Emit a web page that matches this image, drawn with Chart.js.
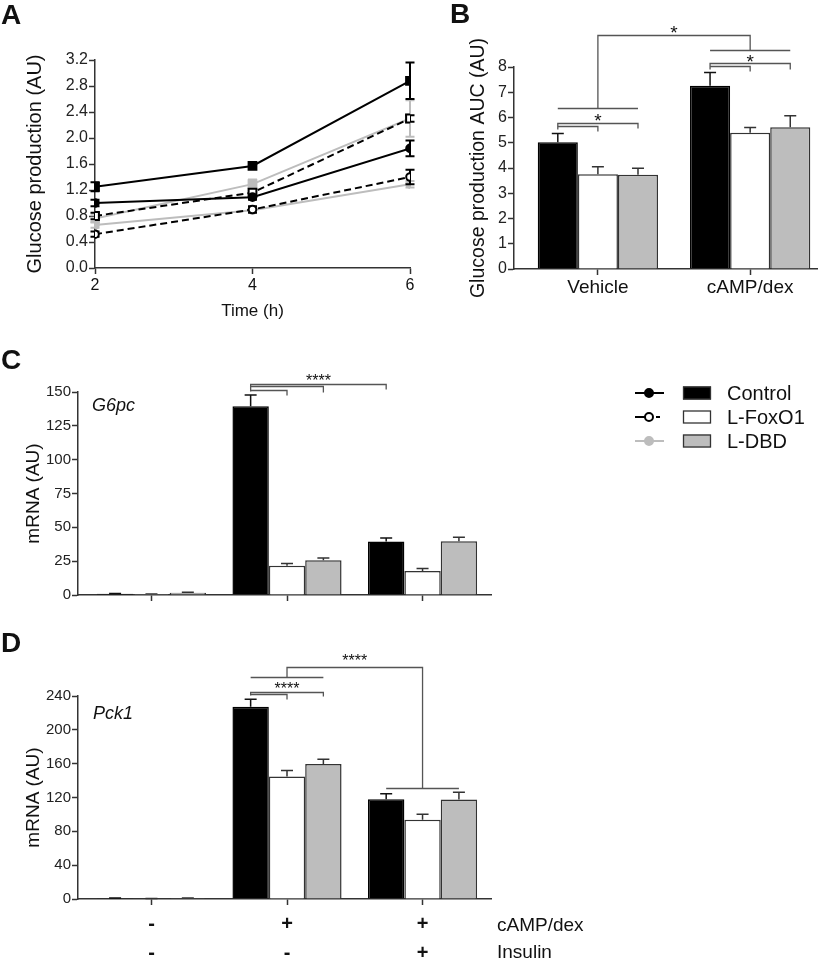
<!DOCTYPE html>
<html>
<head>
<meta charset="utf-8">
<script src="https://cdn.jsdelivr.net/npm/chart.js@4.4.0/dist/chart.umd.min.js"></script>
<style>
  body { margin: 0; background: #fff; }
  #fig { position: relative; width: 828px; height: 961px; overflow: hidden;
         font-family: "Liberation Sans", Arial, sans-serif; color: #111; }
  #fig canvas { position: absolute; }
  .lbl { position: absolute; font-weight: bold; font-size: 28px; line-height: 1; }
  .gene { position: absolute; font-style: italic; font-size: 18px; line-height: 1; }
  .row { position: absolute; font-size: 19px; line-height: 1; }
</style>
</head>
<body>
<div id="fig">
  <canvas id="chartA" width="420" height="330" style="left:0;top:0"></canvas>
  <canvas id="chartB" width="408" height="330" style="left:420px;top:0"></canvas>
  <canvas id="chartC" width="500" height="285" style="left:0;top:330px"></canvas>
  <canvas id="chartD" width="500" height="346" style="left:0;top:615px"></canvas>
  <canvas id="legend" width="208" height="85" style="left:620px;top:375px"></canvas>
  <div class="lbl" style="left:1px;top:1px">A</div>
  <div class="lbl" style="left:450px;top:0">B</div>
  <div class="lbl" style="left:1px;top:346px">C</div>
  <div class="lbl" style="left:1px;top:629px">D</div>
  <div class="gene" style="left:92px;top:396px">G6pc</div>
  <div class="gene" style="left:93px;top:704px">Pck1</div>
  <div class="row" style="left:497px;top:915px">cAMP/dex</div>
  <div class="row" style="left:497px;top:942px">Insulin</div>
</div>
<script>
// ---- A: glucose production over time (squares = cAMP/dex, circles = vehicle)
const timePoints = [2, 4, 6];
const ctrlCamp = [1.25, 1.57, 2.88];
const ctrlCampErr = [0.07, 0.03, 0.28];
const ctrlVeh = [1.00, 1.09, 1.84];
const ctrlVehErr = [0.05, 0.04, 0.12];
const foxCamp = [0.80, 1.16, 2.30];
const foxCampErr = [0.05, 0.04, 0.05];
const foxVeh = [0.52, 0.90, 1.40];
const foxVehErr = [0.04, 0.05, 0.11];
const dbdCamp = [0.76, 1.29, 2.30];
const dbdCampErr = [0.05, 0.07, 0.28];
const dbdVeh = [0.66, 0.89, 1.29];
const dbdVehErr = [0.04, 0.03, 0.05];
const glucTicks = [0, 0.4, 0.8, 1.2, 1.6, 2.0, 2.4, 2.8, 3.2];

// ---- B: AUC
const aucGroups = ['Vehicle', 'cAMP/dex'];
const aucControl = [5.02, 7.26];
const aucControlErr = [0.35, 0.52];
const aucFoxo = [3.75, 5.40];
const aucFoxoErr = [0.30, 0.20];
const aucDbd = [3.73, 5.61];
const aucDbdErr = [0.26, 0.46];
const aucTicks = [0, 1, 2, 3, 4, 5, 6, 7, 8];

// ---- C / D: mRNA
const campRow = ['-', '+', '+'];
const insulinRow = ['-', '-', '+'];
const g6pcControl = [1.0, 139.4, 39.5];
const g6pcControlErr = [0.2, 8.4, 2.7];
const g6pcFoxo = [0.7, 21.7, 17.8];
const g6pcFoxoErr = [0.1, 1.5, 1.7];
const g6pcDbd = [1.7, 25.7, 39.7];
const g6pcDbdErr = [0.3, 1.7, 3.0];
const g6pcTicks = [0, 25, 50, 75, 100, 125, 150];
const pck1Control = [1.0, 227.4, 118.0];
const pck1ControlErr = [0.3, 8.7, 6.3];
const pck1Foxo = [0.5, 144.8, 93.6];
const pck1FoxoErr = [0.2, 7.0, 6.7];
const pck1Dbd = [1.0, 159.7, 117.6];
const pck1DbdErr = [0.3, 5.5, 8.7];
const pck1Ticks = [0, 40, 80, 120, 160, 200, 240];

const AXIS = '#333';
const GRAY = '#bdbdbd';
Chart.defaults.font.family = '"Liberation Sans", Arial, sans-serif';
Chart.defaults.color = '#222';
Chart.defaults.animation = false;

// error bars, drawn under each dataset
const errorBars = {
  id: 'errorBars',
  beforeDatasetDraw(chart, args) {
    const ds = chart.data.datasets[args.index];
    if (!ds.errors) return;
    const ctx = chart.ctx, y = chart.scales.y;
    const bar = chart.config.type === 'bar';
    ctx.save();
    ctx.strokeStyle = ds.errorColor || ds.borderColor;
    ctx.lineWidth = ds.errorWidth || 1.5;
    const cap = ds.errorCap || 5;
    args.meta.data.forEach(function(el, i) {
      const v = ds.data[i].y, e = ds.errors[i];
      const top = y.getPixelForValue(v + e);
      const bot = y.getPixelForValue(bar ? v : v - e);
      ctx.beginPath();
      ctx.moveTo(el.x, top); ctx.lineTo(el.x, bot);
      ctx.moveTo(el.x - cap, top); ctx.lineTo(el.x + cap, top);
      if (!bar) { ctx.moveTo(el.x - cap, bot); ctx.lineTo(el.x + cap, bot); }
      ctx.stroke();
    });
    ctx.restore();
  }
};

function barX(chart, ds, i) { return chart.getDatasetMeta(ds).data[i].x; }

function path(chart, pts) {
  const ctx = chart.ctx, y = chart.scales.y;
  ctx.save();
  ctx.strokeStyle = '#555';
  ctx.lineWidth = 1.3;
  ctx.beginPath();
  pts.forEach(function(p, k) {
    const py = Math.round(y.getPixelForValue(p[1])) + 0.5;
    if (k) ctx.lineTo(p[0], py); else ctx.moveTo(p[0], py);
  });
  ctx.stroke();
  ctx.restore();
}

function stars(chart, x, v, txt, size) {
  const ctx = chart.ctx;
  ctx.save();
  ctx.fillStyle = '#111';
  ctx.font = size + 'px "Liberation Sans", Arial, sans-serif';
  ctx.textAlign = 'center';
  ctx.textBaseline = 'alphabetic';
  ctx.fillText(txt, x, chart.scales.y.getPixelForValue(v) + size * 0.58);
  ctx.restore();
}

function yAxis(ticks, title, left, width, tickSize, titleSize, fmt) {
  return {
    min: ticks[0], max: ticks[ticks.length - 1],
    afterBuildTicks: function(s) { s.ticks = ticks.map(function(v) { return { value: v }; }); },
    afterFit: function(s) { s.width = width; },
    ticks: { font: { size: tickSize }, padding: 1, color: '#222', callback: fmt || function(v) { return v; } },
    grid: { drawOnChartArea: false, tickLength: 6, tickColor: AXIS, tickWidth: 1.5 },
    border: { color: AXIS, width: 1.5 },
    title: { display: true, text: title, color: '#111', font: { size: titleSize }, padding: { top: 4, bottom: 0 } }
  };
}

function xAxis(min, max, ticks, height, font, pad, labelFn) {
  return {
    type: 'linear', min: min, max: max, offset: false,
    afterBuildTicks: function(s) { s.ticks = ticks.map(function(v) { return { value: v }; }); },
    afterFit: function(s) { s.height = height; },
    ticks: { font: font, padding: pad, autoSkip: false, maxRotation: 0, color: '#111', callback: labelFn },
    grid: { offset: false, drawOnChartArea: false, tickLength: 6, tickColor: AXIS, tickWidth: 1.5 },
    border: { color: AXIS, width: 1.5 }
  };
}

function xy(xs, vals) { return xs.map(function(x, i) { return { x: x, y: vals[i] }; }); }

function barSets(xs, c, ce, f, fe, d, de) {
  return [
    { data: xy(xs, c), errors: ce, backgroundColor: '#000', borderColor: '#000', errorColor: '#111', errorCap: 6 },
    { data: xy(xs, f), errors: fe, backgroundColor: '#fff', borderColor: AXIS, errorColor: AXIS, errorCap: 6 },
    { data: xy(xs, d), errors: de, backgroundColor: GRAY, borderColor: AXIS, errorColor: AXIS, errorCap: 6 }
  ];
}

const noLegend = { legend: { display: false }, tooltip: { enabled: false } };

// ---------- A
function lineSet(vals, errs, color, fill, shape, dash) {
  return {
    data: xy(timePoints, vals), errors: errs, borderColor: color, borderWidth: 2,
    borderDash: dash ? [7, 4] : [], pointStyle: shape, pointRadius: shape === 'rect' ? 5.5 : 3.8,
    pointBackgroundColor: fill, pointBorderColor: color, pointBorderWidth: 2,
    errorColor: color, errorWidth: 2, errorCap: 4.5, tension: 0, fill: false
  };
}
new Chart(document.getElementById('chartA'), {
  type: 'line',
  data: { datasets: [
    lineSet(ctrlCamp, ctrlCampErr, '#000', '#000', 'rect', false),
    lineSet(ctrlVeh, ctrlVehErr, '#000', '#000', 'circle', false),
    lineSet(foxCamp, foxCampErr, '#000', '#fff', 'rect', true),
    lineSet(foxVeh, foxVehErr, '#000', '#fff', 'circle', true),
    lineSet(dbdCamp, dbdCampErr, GRAY, GRAY, 'rect', false),
    lineSet(dbdVeh, dbdVehErr, GRAY, GRAY, 'circle', false)
  ] },
  options: {
    responsive: false, devicePixelRatio: 1,
    layout: { padding: { left: 19, top: 60, right: 10, bottom: 0 } },
    plugins: noLegend,
    scales: {
      x: Object.assign(xAxis(2, 6, timePoints, 62, { size: 16 }, 1.5, function(v) { return v; }), {
        title: { display: true, text: 'Time (h)', color: '#111', font: { size: 17 }, padding: { top: 0, bottom: 8 } }
      }),
      y: yAxis(glucTicks, 'Glucose production (AU)', 19, 76, 16, 20, function(v) { return v.toFixed(1); })
    }
  },
  plugins: [errorBars]
});

// ---------- B
new Chart(document.getElementById('chartB'), {
  type: 'bar',
  data: { datasets: barSets([1, 2], aucControl, aucControlErr, aucFoxo, aucFoxoErr, aucDbd, aucDbdErr) },
  options: {
    responsive: false, devicePixelRatio: 1,
    layout: { padding: { left: 43, top: 67, right: 11, bottom: 0 } },
    plugins: noLegend,
    datasets: { bar: { categoryPercentage: 0.79, barPercentage: 1, borderWidth: 1.5 } },
    scales: {
      x: xAxis(0.449, 2.439, [1, 2], 61, { size: 19 }, 1, function(v) { return aucGroups[Math.round(v) - 1]; }),
      y: yAxis(aucTicks, 'Glucose production AUC (AU)', 43, 51, 16, 19.5)
    }
  },
  plugins: [errorBars, {
    id: 'sigB',
    afterDraw(c) {
      const v = [barX(c, 0, 0), barX(c, 1, 0), barX(c, 2, 0)];
      const m = [barX(c, 0, 1), barX(c, 1, 1), barX(c, 2, 1)];
      path(c, [[v[0], 5.55], [v[0], 5.77], [v[2], 5.77], [v[2], 5.58]]);
      path(c, [[v[0], 5.66], [v[1], 5.66], [v[1], 5.48]]);
      path(c, [[v[0], 6.36], [v[2], 6.36]]);
      stars(c, v[1], 6.08, '*', 19);
      path(c, [[m[0], 7.92], [m[0], 8.15], [m[2], 8.15], [m[2], 7.92]]);
      path(c, [[m[0], 8.05], [m[1], 8.05], [m[1], 7.85]]);
      path(c, [[m[0], 8.67], [m[2], 8.67]]);
      stars(c, m[1], 8.41, '*', 19);
      path(c, [[v[1], 6.36], [v[1], 9.27], [m[1], 9.27], [m[1], 8.67]]);
      stars(c, (v[1] + m[1]) / 2, 9.54, '*', 19);
    }
  }]
});

// ---------- C
new Chart(document.getElementById('chartC'), {
  type: 'bar',
  data: { datasets: barSets([1, 2, 3], g6pcControl, g6pcControlErr, g6pcFoxo, g6pcFoxoErr, g6pcDbd, g6pcDbdErr) },
  options: {
    responsive: false, devicePixelRatio: 1,
    layout: { padding: { left: 18, top: 62, right: 9, bottom: 0 } },
    plugins: noLegend,
    datasets: { bar: { categoryPercentage: 0.805, barPercentage: 1, borderWidth: 1.5 } },
    scales: {
      x: xAxis(0.458, 3.505, [1, 2, 3], 20, { size: 12 }, 1, function() { return ''; }),
      y: yAxis(g6pcTicks, 'mRNA (AU)', 18, 60, 15, 19)
    }
  },
  plugins: [errorBars, {
    id: 'sigC',
    afterDraw(c) {
      const g = [barX(c, 0, 1), barX(c, 1, 1), barX(c, 2, 1)];
      const h = barX(c, 0, 2);
      path(c, [[g[0], 150.5], [g[0], 156], [h, 156], [h, 152.2]]);
      path(c, [[g[0], 154.2], [g[2], 154.2], [g[2], 150]]);
      path(c, [[g[0], 151.7], [g[1], 151.7], [g[1], 148]]);
      stars(c, (g[0] + h) / 2, 161.5, '****', 16);
    }
  }]
});

// ---------- D
new Chart(document.getElementById('chartD'), {
  type: 'bar',
  data: { datasets: barSets([1, 2, 3], pck1Control, pck1ControlErr, pck1Foxo, pck1FoxoErr, pck1Dbd, pck1DbdErr) },
  options: {
    responsive: false, devicePixelRatio: 1,
    layout: { padding: { left: 18, top: 81, right: 9, bottom: 0 } },
    plugins: noLegend,
    datasets: { bar: { categoryPercentage: 0.805, barPercentage: 1, borderWidth: 1.5 } },
    scales: {
      x: xAxis(0.458, 3.505, [1, 2, 3], 62, { size: 20, weight: 'bold', lineHeight: 1.45 }, 4.5, function(v) {
        const i = Math.round(v) - 1;
        return [campRow[i], insulinRow[i]];
      }),
      y: yAxis(pck1Ticks, 'mRNA (AU)', 18, 60, 15, 19)
    }
  },
  plugins: [errorBars, {
    id: 'sigD',
    afterDraw(c) {
      const g = [barX(c, 0, 1), barX(c, 1, 1), barX(c, 2, 1)];
      const k = [barX(c, 0, 2), barX(c, 1, 2), barX(c, 2, 2)];
      path(c, [[g[0], 241.5], [g[0], 245.1], [g[2], 245.1], [g[2], 240]]);
      path(c, [[g[0], 242.4], [g[1], 242.4], [g[1], 236]]);
      stars(c, g[1], 253, '****', 16);
      path(c, [[g[0], 262.8], [g[2], 262.8]]);
      path(c, [[k[0], 131.8], [k[2], 131.8]]);
      path(c, [[g[1], 262.8], [g[1], 274.6], [k[1], 274.6], [k[1], 131.8]]);
      stars(c, (g[1] + k[1]) / 2, 286.4, '****', 16);
    }
  }]
});

// ---------- shared legend
(function drawLegend() {
  const ctx = document.getElementById('legend').getContext('2d');
  const rows = [
    { name: 'Control', line: '#000', dot: '#000', box: '#000', dash: false },
    { name: 'L-FoxO1', line: '#000', dot: '#fff', box: '#fff', dash: true },
    { name: 'L-DBD', line: GRAY, dot: GRAY, box: GRAY, dash: false }
  ];
  rows.forEach(function(r, i) {
    const y = 18 + i * 24;
    ctx.strokeStyle = r.line;
    ctx.lineWidth = 2;
    ctx.beginPath();
    if (r.dash) {
      ctx.moveTo(15, y); ctx.lineTo(25, y);
      ctx.moveTo(36, y); ctx.lineTo(40, y);
    } else {
      ctx.moveTo(15, y); ctx.lineTo(44, y);
    }
    ctx.stroke();
    ctx.beginPath();
    ctx.arc(29, y, 4, 0, Math.PI * 2);
    ctx.fillStyle = r.dot;
    ctx.fill();
    ctx.stroke();
    ctx.fillStyle = r.box;
    ctx.fillRect(63, y - 6.5, 28, 13);
    ctx.strokeStyle = AXIS;
    ctx.lineWidth = 1.3;
    ctx.strokeRect(63.5, y - 6, 27, 12);
    ctx.fillStyle = '#111';
    ctx.font = '20px "Liberation Sans", Arial, sans-serif';
    ctx.textBaseline = 'middle';
    ctx.fillText(r.name, 107, y + 1);
  });
})();
</script>
</body>
</html>
